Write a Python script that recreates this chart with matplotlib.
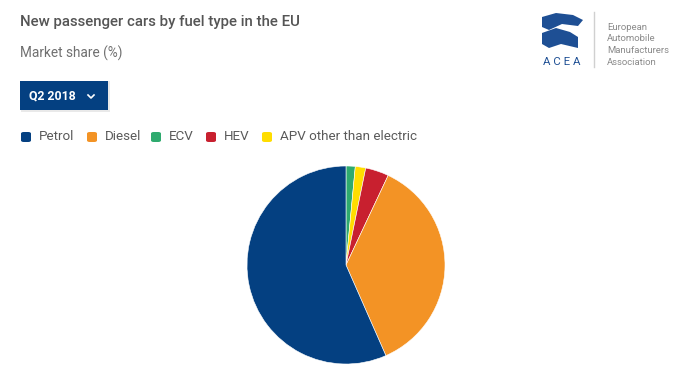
import matplotlib.pyplot as plt
from matplotlib.patches import Rectangle, FancyBboxPatch, Polygon
from matplotlib.lines import Line2D

plt.rcParams['font.family'] = ['Roboto', 'DejaVu Sans']

# data (clockwise from 12 o'clock, as drawn)
legend_labels = ['Petrol', 'Diesel', 'ECV', 'HEV', 'APV other than electric']
legend_colors = ['#044081', '#f39325', '#2eaa6e', '#c8202f', '#ffdd00']
slice_labels = ['ECV', 'APV other than electric', 'HEV', 'Diesel', 'Petrol']
slice_values = [1.5, 1.7, 3.8, 36.4, 56.6]
period = 'Q2 2018'

W, H = 700, 380
fig = plt.figure(figsize=(W / 100, H / 100), dpi=100)
fig.patch.set_facecolor('white')


def fx(x):
    return x / W


def fy(y):
    return 1 - y / H


# titles
fig.text(fx(20), fy(22), 'New passenger cars by fuel type in the EU', fontsize=10.8,
         color='#555555', va='center', ha='left', fontweight='medium')
fig.text(fx(20), fy(53), 'Market share (%)', fontsize=9.8, color='#707070',
         va='center', ha='left')

# period button
fig.patches.append(Rectangle((fx(21), fy(112)), fx(89), 31 / H, transform=fig.transFigure,
                             facecolor='#d5d5d5', edgecolor='none', alpha=0.5))
fig.patches.append(Rectangle((fx(20), fy(110)), fx(88), 29 / H, transform=fig.transFigure,
                             facecolor='#044081', edgecolor='none'))
fig.text(fx(29), fy(96), period, fontsize=8.8, color='white', fontweight='bold',
         va='center', ha='left')
fig.lines.append(Line2D([fx(88), fx(91), fx(94)], [fy(95), fy(98), fy(95)],
                        transform=fig.transFigure, color='white', lw=1.2))

# legend
legend_x = [20, 86, 150, 205, 261]
for x, lab, col in zip(legend_x, legend_labels, legend_colors):
    fig.patches.append(FancyBboxPatch((fx(x + 1), fy(142)), fx(10), 10 / H,
                                      boxstyle='round,pad=0,rounding_size=0.004',
                                      transform=fig.transFigure, facecolor=col,
                                      edgecolor='none'))
    fig.text(fx(x + 19), fy(136), lab, fontsize=9.6, color='#5a5a5a',
             va='center', ha='left')

# logo
top_shape = [(542, 17), (556, 13), (573, 15), (583, 20), (578, 26), (562, 24), (549, 30), (542, 27)]
bot_shape = [(542, 33), (556, 28), (570, 32), (578, 37), (578, 48), (561, 44), (549, 48), (542, 44)]
for shp in (top_shape, bot_shape):
    fig.patches.append(Polygon([(fx(a), fy(b)) for a, b in shp], closed=True,
                               transform=fig.transFigure, facecolor='#1e4f94',
                               edgecolor='none'))
fig.text(fx(562), fy(62), 'A C E A', fontsize=8.2, color='#1e4f94', ha='center', va='center')
fig.lines.append(Line2D([fx(594), fx(594)], [fy(12), fy(67)], transform=fig.transFigure,
                        color='#d0d0d0', lw=1))
for i, line in enumerate(['European', 'Automobile', 'Manufacturers', 'Association']):
    fig.text(fx(607), fy(27 + i * 11.8), line, fontsize=6.8, color='#8a8a8a',
             ha='left', va='center')

# pie
ax = fig.add_axes([fx(247), fy(364), fx(198), 198 / H])
colors = [legend_colors[legend_labels.index(s)] for s in slice_labels]
ax.pie(slice_values, colors=colors, startangle=90, counterclock=False, radius=1,
       wedgeprops=dict(edgecolor='white', linewidth=0.4))
ax.set_xlim(-1, 1)
ax.set_ylim(-1, 1)
ax.set_aspect('equal')
ax.axis('off')

fig.savefig('out.png', dpi=100, facecolor='white')
